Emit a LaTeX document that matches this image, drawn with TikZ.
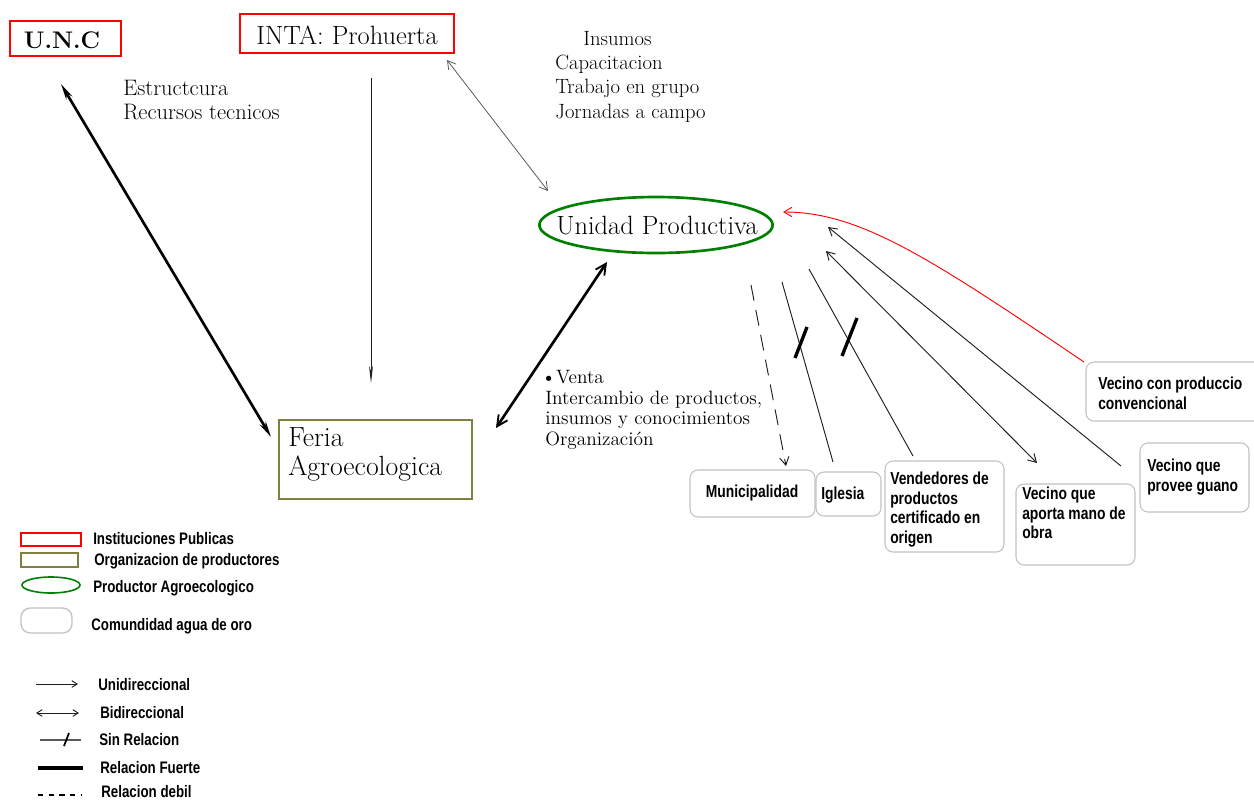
\documentclass[tikz,border=0pt]{standalone}
\usepackage{fontspec}
\newfontfamily\arialn{Liberation Sans}[FakeStretch=0.8]
\usetikzlibrary{arrows.meta,fit,shapes.geometric}
\definecolor{redb}{RGB}{255,0,0}
\definecolor{oliveb}{RGB}{128,128,64}
\definecolor{greenb}{RGB}{0,128,0}
\definecolor{grayb}{RGB}{195,195,195}
\definecolor{lnk}{RGB}{30,30,30}
\definecolor{lnkg}{RGB}{90,90,90}
\tikzset{
  barb/.tip={Straight Barb[length=6pt,width=7pt]},
  hbarb/.tip={Straight Barb[length=8pt,width=8pt,line width=1.4pt]},
  sth/.tip={Stealth[length=12pt,width=5pt]},
}
\begin{document}
\begin{tikzpicture}[x=0.75pt,y=-0.75pt,
  inst/.style={draw=redb,line width=2.2pt,inner sep=0},
  org/.style={draw=oliveb,line width=2.2pt,inner sep=0},
  prod/.style={ellipse,draw=greenb,line width=2pt,inner sep=0},
  com/.style={draw=grayb,line width=0.8pt,rounded corners=6pt,inner sep=0},
  stxt/.style={inner sep=0,align=left,anchor=north west},
  btxt/.style={inner sep=0,align=left,anchor=north west,font=\arialn\bfseries\fontsize{13}{14.6}\selectfont},
  ltxt/.style={inner sep=0,anchor=west,font=\arialn\bfseries\fontsize{12.5}{14}\selectfont},
  thin/.style={draw=lnk,line width=0.7pt},
  strong/.style={draw=black,line width=2pt},
  slash/.style={draw=black,line width=2.5pt},
]
\useasboundingbox[fill=white] (0,0) rectangle (1254,801);

% ---------- main nodes ----------
\node[inst, fit={(10,21)(121,56)}] (unc) {};
\node[inner sep=0, font=\bfseries\fontsize{18}{18}\selectfont] (unctxt) at (62,40) {U.N.C};
\node[inst, fit={(240,14)(454,53)}] (inta) {};
\node[inner sep=0, font=\fontsize{19.8}{20}\selectfont] (intatxt) at (347,35) {INTA: Prohuerta};
\node[prod, minimum width=175pt, minimum height=42pt] (up) at (656,225) {};
\node[inner sep=0, font=\fontsize{19.8}{20}\selectfont] (uptxt) at (657,226) {Unidad Productiva};
\node[org, fit={(279,420)(472,499)}] (feria) {};
\node[stxt, font=\fontsize{20.8}{21.8}\selectfont] (feriatxt) at (288,427) {Feria\\Agroecologica};

% ---------- label texts ----------
\node[stxt, font=\fontsize{16.8}{18}\selectfont] (est) at (123,80) {Estructcura\\Recursos tecnicos};
\node[stxt, font=\fontsize{15.5}{18.2}\selectfont] (ins) at (555,31) {\hspace*{21pt}Insumos\\Capacitacion\\Trabajo en grupo\\Jornadas a campo};
\node[stxt, font=\fontsize{14.5}{15.4}\selectfont] (venta) at (541,370) {\textbullet Venta\\\hspace*{3pt}Intercambio de productos,\\\hspace*{3pt}insumos y conocimientos\\\hspace*{3pt}Organización};

% ---------- community boxes ----------
\node[com, fit={(690,470)(815,517)}] (muni) {};
\node[inner sep=0, font=\arialn\bfseries\fontsize{13}{14.6}\selectfont] (munitxt) at (752,493) {Municipalidad};
\node[com, fit={(816,472)(881,516)}] (igl) {};
\node[btxt] (igltxt) at (821,487) {Iglesia};
\node[com, fit={(885,461)(1004,552)}] (vend) {};
\node[btxt] (vendtxt) at (890,472) {Vendedores de\\productos\\certificado en\\origen};
\node[com, fit={(1016,484)(1135,565)}] (apo) {};
\node[btxt] (apotxt) at (1022,487) {Vecino que\\aporta mano de\\obra};
\node[com, fit={(1140,443)(1249,512)}] (gua) {};
\node[btxt] (guatxt) at (1147,459) {Vecino que\\provee guano};
\node[com, fit={(1086,362)(1264,421)}] (conv) {};
\node[btxt] (convtxt) at (1098,377) {Vecino con produccio\\convencional};

% ---------- connector end points ----------
\coordinate (uncE) at (61,84);   \coordinate (feriaW) at (271,437);
\coordinate (intaS) at (371,78); \coordinate (feriaN) at (371,383);
\coordinate (intaE) at (447,60); \coordinate (upNW) at (548,191);
\coordinate (upS) at (607,262);  \coordinate (feriaE) at (496,428);
\coordinate (upA) at (751,285);  \coordinate (muniN) at (786,466);
\coordinate (upB) at (782,282);  \coordinate (iglN) at (833,462);
\coordinate (upC) at (809,269);  \coordinate (vendN) at (913,456);
\coordinate (upD) at (826,251);  \coordinate (apoN) at (1037,463);
\coordinate (upE) at (828,227);  \coordinate (guaN) at (1121,466);
\coordinate (upF) at (783,212);  \coordinate (convW) at (1084,362);

% ---------- connectors ----------
\draw[strong, sth-sth] (uncE) -- (feriaW);
\draw[thin, -{Stealth[length=13pt,width=3pt]}] (intaS) -- (feriaN);
\draw[draw=lnkg, line width=0.6pt, barb-barb] (intaE) -- (upNW);
\draw[strong, hbarb-hbarb] (feriaE) -- (upS);
\draw[thin, dash pattern=on 12pt off 7pt, -barb] (upA) -- (muniN);
\draw[thin] (upB) -- (iglN);
\draw[slash] (795,358) -- (807,327);
\draw[thin] (upC) -- (vendN);
\draw[slash] (842,356) -- (857,318);
\draw[thin, barb-barb] (upD) -- (apoN);
\draw[thin, barb-] (upE) -- (guaN);
\draw[draw=redb, line width=0.7pt, -barb] (convW) .. controls (930,258) and (860,212) .. (upF);

% ---------- legend ----------
\node[draw=redb, line width=1.2pt, inner sep=0, fit={(21,533)(81,546)}] (lg1) {};
\node[ltxt] (lt1) at (93,539) {Instituciones Publicas};
\node[draw=oliveb, line width=1.2pt, inner sep=0, fit={(21,553)(78,567)}] (lg2) {};
\node[ltxt] (lt2) at (94,561) {Organizacion de productores};
\node[ellipse, draw=greenb, line width=1.2pt, inner sep=0, minimum width=43.5pt, minimum height=12pt] (lg3) at (51,585) {};
\node[ltxt] (lt3) at (93,588) {Productor Agroecologico};
\node[draw=grayb, line width=1pt, rounded corners=7pt, inner sep=0, fit={(21,608)(72,633)}] (lg4) {};
\node[ltxt] (lt4) at (91,626) {Comundidad agua de oro};

\coordinate (a1) at (36,684); \coordinate (b1) at (78,684);
\node[ltxt] (lt5) at (98,685) {Unidireccional};
\coordinate (a2) at (36,713); \coordinate (b2) at (79,713);
\node[ltxt] (lt6) at (100,713) {Bidireccional};
\coordinate (a3) at (40,740); \coordinate (b3) at (81,740);
\node[ltxt] (lt7) at (99,740) {Sin Relacion};
\coordinate (a4) at (38,768); \coordinate (b4) at (83,768);
\node[ltxt] (lt8) at (100,768) {Relacion Fuerte};
\coordinate (a5) at (38,795); \coordinate (b5) at (82,795);
\node[ltxt] (lt9) at (101,792) {Relacion debil};

\draw[thin, -{Straight Barb[length=4pt,width=5pt]}] (a1) -- (b1);
\draw[thin, {Straight Barb[length=4pt,width=5pt]}-{Straight Barb[length=4pt,width=5pt]}] (a2) -- (b2);
\draw[draw=lnkg, line width=1pt] (a3) -- (b3);
\draw[draw=black, line width=1.3pt] (64,746) -- (69,733);
\draw[draw=black, line width=3pt] (a4) -- (b4);
\draw[draw=black, line width=0.8pt, dash pattern=on 4pt off 4pt] (a5) -- (b5);
\end{tikzpicture}
\end{document}
